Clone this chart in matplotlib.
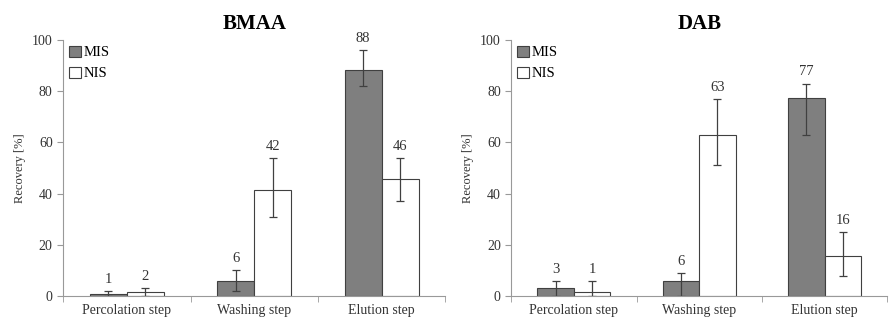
import matplotlib.pyplot as plt
import numpy as np

plt.rcParams['font.family'] = ['Liberation Serif', 'DejaVu Serif']

steps = ['Percolation step', 'Washing step', 'Elution step']

bmaa_mis = [0.8, 6.0, 88.3]
bmaa_mis_lo = [0.8, 4.0, 6.3]
bmaa_mis_hi = [1.2, 4.0, 7.7]
bmaa_nis = [1.7, 41.6, 45.6]
bmaa_nis_lo = [1.7, 10.6, 8.6]
bmaa_nis_hi = [1.3, 12.4, 8.4]
bmaa_labels_mis = ['1', '6', '88']
bmaa_labels_nis = ['2', '42', '46']

dab_mis = [3.0, 6.0, 77.3]
dab_mis_lo = [3.0, 6.0, 14.3]
dab_mis_hi = [3.0, 3.0, 5.7]
dab_nis = [1.4, 62.8, 15.6]
dab_nis_lo = [1.4, 11.8, 7.6]
dab_nis_hi = [4.6, 14.2, 9.4]
dab_labels_mis = ['3', '6', '77']
dab_labels_nis = ['1', '63', '16']

fig = plt.figure(figsize=(8.89, 3.2), dpi=100)
ax1 = fig.add_axes([0.071, 0.075, 0.430, 0.800])
ax2 = fig.add_axes([0.575, 0.075, 0.423, 0.800])


def panel(ax, title, mis, mis_lo, mis_hi, nis, nis_lo, nis_hi, lab_mis, lab_nis):
    x = np.arange(len(steps))
    w = 0.29
    ek = dict(ecolor='#404040', elinewidth=0.9, capsize=3, capthick=0.9)
    ax.bar(x - w / 2, mis, w, color='#7f7f7f', edgecolor='#404040', linewidth=0.8,
           yerr=[mis_lo, mis_hi], error_kw=ek, label='MIS')
    ax.bar(x + w / 2, nis, w, color='white', edgecolor='#404040', linewidth=0.8,
           yerr=[nis_lo, nis_hi], error_kw=ek, label='NIS')
    for i in range(len(steps)):
        ax.text(x[i] - w / 2, mis[i] + mis_hi[i] + 2, lab_mis[i], ha='center', va='bottom', fontsize=10.5, color='#333333')
        ax.text(x[i] + w / 2, nis[i] + nis_hi[i] + 2, lab_nis[i], ha='center', va='bottom', fontsize=10.5, color='#333333')
    ax.set_xlim(-0.5, 2.5)
    ax.set_ylim(0, 100)
    ax.set_yticks([0, 20, 40, 60, 80, 100])
    ax.set_xticks(x)
    ax.set_xticklabels(steps)
    ax.set_xticks([-0.5, 0.5, 1.5, 2.5], minor=True)
    ax.tick_params(axis='x', which='major', length=0, labelsize=10, colors='#333333', pad=6)
    ax.tick_params(axis='x', which='minor', length=4, color='#999999')
    ax.tick_params(axis='y', length=4, color='#999999', labelsize=10, labelcolor='#333333')
    for s in ['top', 'right']:
        ax.spines[s].set_visible(False)
    for s in ['left', 'bottom']:
        ax.spines[s].set_color('#999999')
        ax.spines[s].set_linewidth(0.8)
    ax.set_ylabel('Recovery [%]', fontsize=9, color='#333333')
    ax.set_title(title, fontsize=15, fontweight='bold', pad=8)
    ax.legend(loc='upper left', frameon=False, fontsize=10.5, handlelength=0.8,
              handleheight=0.8, handletextpad=0.2, labelspacing=0.5,
              borderaxespad=0.1, borderpad=0.3)


panel(ax1, 'BMAA', bmaa_mis, bmaa_mis_lo, bmaa_mis_hi, bmaa_nis, bmaa_nis_lo, bmaa_nis_hi,
      bmaa_labels_mis, bmaa_labels_nis)
panel(ax2, 'DAB', dab_mis, dab_mis_lo, dab_mis_hi, dab_nis, dab_nis_lo, dab_nis_hi,
      dab_labels_mis, dab_labels_nis)

fig.savefig('out.png', dpi=100)
